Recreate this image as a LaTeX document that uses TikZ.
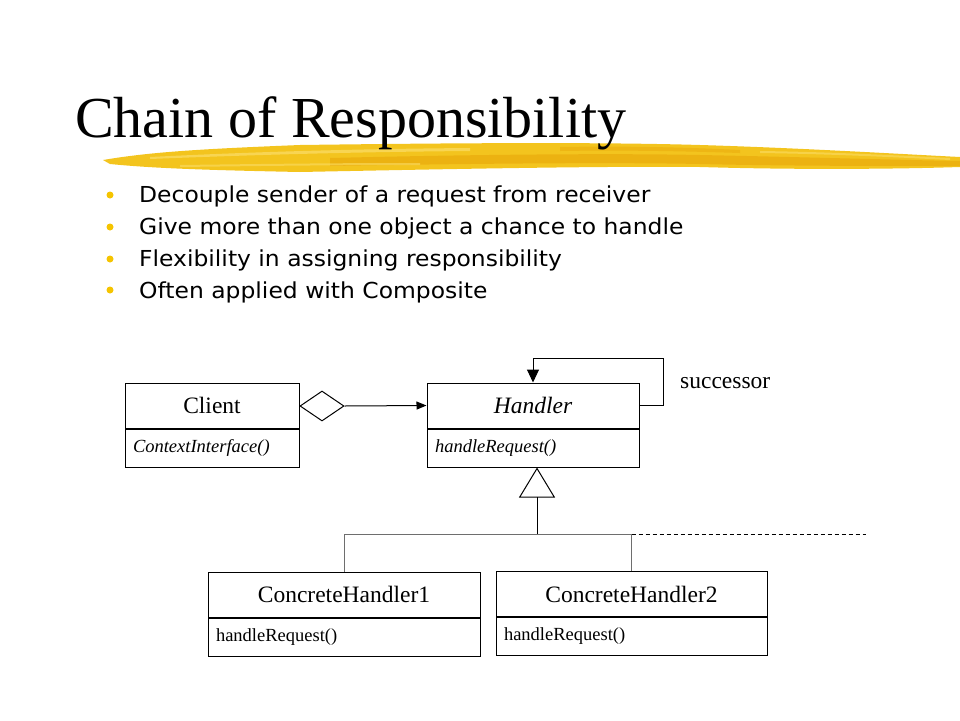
\documentclass[tikz,border=0pt]{standalone}
\usepackage{fontspec}
\usepackage{graphicx}
\setmainfont{Liberation Serif}
\newfontfamily\bulletfont{DejaVu Sans}
\usetikzlibrary{arrows.meta,shapes.geometric}
\definecolor{bulletyellow}{RGB}{245,196,0}
\definecolor{brushA}{RGB}{243,196,30}
\definecolor{brushB}{RGB}{232,165,8}
\definecolor{brushC}{RGB}{250,220,100}
\definecolor{linkgray}{RGB}{110,110,110}
\begin{document}
\begin{tikzpicture}[x=1pt,y=-1pt,
  clsname/.style={draw, line width=1pt, minimum height=45pt, inner sep=0pt,
    font=\fontsize{23.5}{28}\selectfont},
  clsmeth/.style={draw, line width=1pt, minimum height=38pt, inner xsep=8pt,
    inner ysep=0pt, align=left, anchor=north, font=\fontsize{18.5}{22}\selectfont},
  bullettext/.style={anchor=base west, inner sep=0pt,
    font=\fontsize{22}{26}\bulletfont},
  bulletdot/.style={circle, fill=bulletyellow, inner sep=0pt, minimum size=7pt},
  link/.style={line width=1pt, draw=linkgray},
  plain/.style={line width=1pt, draw=black}
]
\useasboundingbox (0,0) rectangle (960,720);

% brush stroke under title
\fill[brushA] (103,160) .. controls (150,152) and (200,149) .. (300,145)
  .. controls (450,143) and (600,142) .. (700,145)
  .. controls (800,148) and (900,154) .. (960,157) -- (960,167)
  .. controls (900,169) and (800,170) .. (700,167)
  .. controls (600,166) and (450,169) .. (300,172)
  .. controls (200,170) and (150,168) .. (110,164) -- cycle;
\fill[brushB, opacity=0.55] (330,158) .. controls (450,155) and (600,153) .. (700,155)
  .. controls (800,157) and (900,160) .. (960,161) -- (960,166)
  .. controls (880,166) and (780,166) .. (700,164)
  .. controls (600,162) and (450,164) .. (330,166) -- cycle;
\fill[brushB, opacity=0.45] (560,147) .. controls (620,146) and (680,147) .. (740,150)
  -- (740,153) .. controls (680,151) and (620,150) .. (560,151) -- cycle;
\fill[brushC, opacity=0.75] (150,157) .. controls (250,152) and (350,149) .. (470,148)
  -- (470,151) .. controls (350,152) and (250,155) .. (150,159) -- cycle;
\fill[brushC, opacity=0.6] (180,165) .. controls (260,164) and (330,163) .. (420,163)
  -- (420,165) .. controls (330,165) and (260,166) .. (180,167) -- cycle;
\fill[brushC, opacity=0.6] (760,151) .. controls (830,152) and (890,155) .. (950,158)
  -- (950,160) .. controls (890,157) and (830,154) .. (760,153) -- cycle;

% title
\node[anchor=base west, inner sep=0pt, font=\fontsize{58}{64}\selectfont]
  (title) at (75,137) {Chain of Responsibility};

% bullets
\node[bulletdot] (d1) at (110,195) {};
\node[bulletdot] (d2) at (110,227) {};
\node[bulletdot] (d3) at (110,259) {};
\node[bulletdot] (d4) at (110,290) {};
\node[bullettext] (b1) at (139,202) {\scalebox{1.065}[1]{Decouple sender of a request from receiver}};
\node[bullettext] (b2) at (139,234) {\scalebox{1.065}[1]{Give more than one object a chance to handle}};
\node[bullettext] (b3) at (139,266) {\scalebox{1.065}[1]{Flexibility in assigning responsibility}};
\node[bullettext] (b4) at (139,298) {\scalebox{1.065}[1]{Often applied with Composite}};

% classes
\node[clsname, minimum width=174pt] (client) at (212,405.5) {Client};
\node[clsmeth, minimum width=174pt, text width=158pt,
  font={\fontsize{18.5}{22}\selectfont\itshape}] (clientm) at (client.south) {ContextInterface()};

\node[clsname, minimum width=212pt, font={\fontsize{23.5}{28}\selectfont\itshape}]
  (handler) at (533,405.5) {Handler};
\node[clsmeth, minimum width=212pt, text width=196pt,
  font={\fontsize{18.5}{22}\selectfont\itshape}] (handlerm) at (handler.south) {handleRequest()};

\node[clsname, minimum width=272pt] (ch1) at (344,594.5) {ConcreteHandler1};
\node[clsmeth, minimum width=272pt, text width=256pt] (ch1m) at (ch1.south) {handleRequest()};

\node[clsname, minimum width=271pt] (ch2) at (631.5,594) {ConcreteHandler2};
\node[clsmeth, minimum width=271pt, text width=255pt] (ch2m) at (ch2.south) {handleRequest()};

% aggregation
\node[draw, line width=1pt, shape=diamond, inner sep=0pt, minimum width=44pt,
  minimum height=30pt] (agg) at (322,406) {};
\draw[plain, -{Triangle[length=10pt,width=8pt]}] (agg.east) -- (handler.west);

% successor loop
\draw[plain, -{Triangle[length=13pt,width=12pt]}] (handler.east) -- ++(24,0)
  -- ++(0,-47) -| (handler.north);
\node[anchor=base west, inner sep=0pt, font=\fontsize{23.5}{28}\selectfont]
  (succ) at (680,388) {successor};

% inheritance
\coordinate (apex) at ([xshift=4pt]handlerm.south);
\coordinate (j) at (537,534);
\coordinate (dashend) at (866,534);
\draw[plain, -{Triangle[open,length=30pt,width=36pt]}] (j) -- (apex);
\draw[link] (ch1.north) |- (j);
\draw[link] (ch2.north) |- (j);
\draw[line width=1pt, dash pattern=on 4pt off 3pt] (ch2.north |- j) -- (dashend);
\end{tikzpicture}
\end{document}
